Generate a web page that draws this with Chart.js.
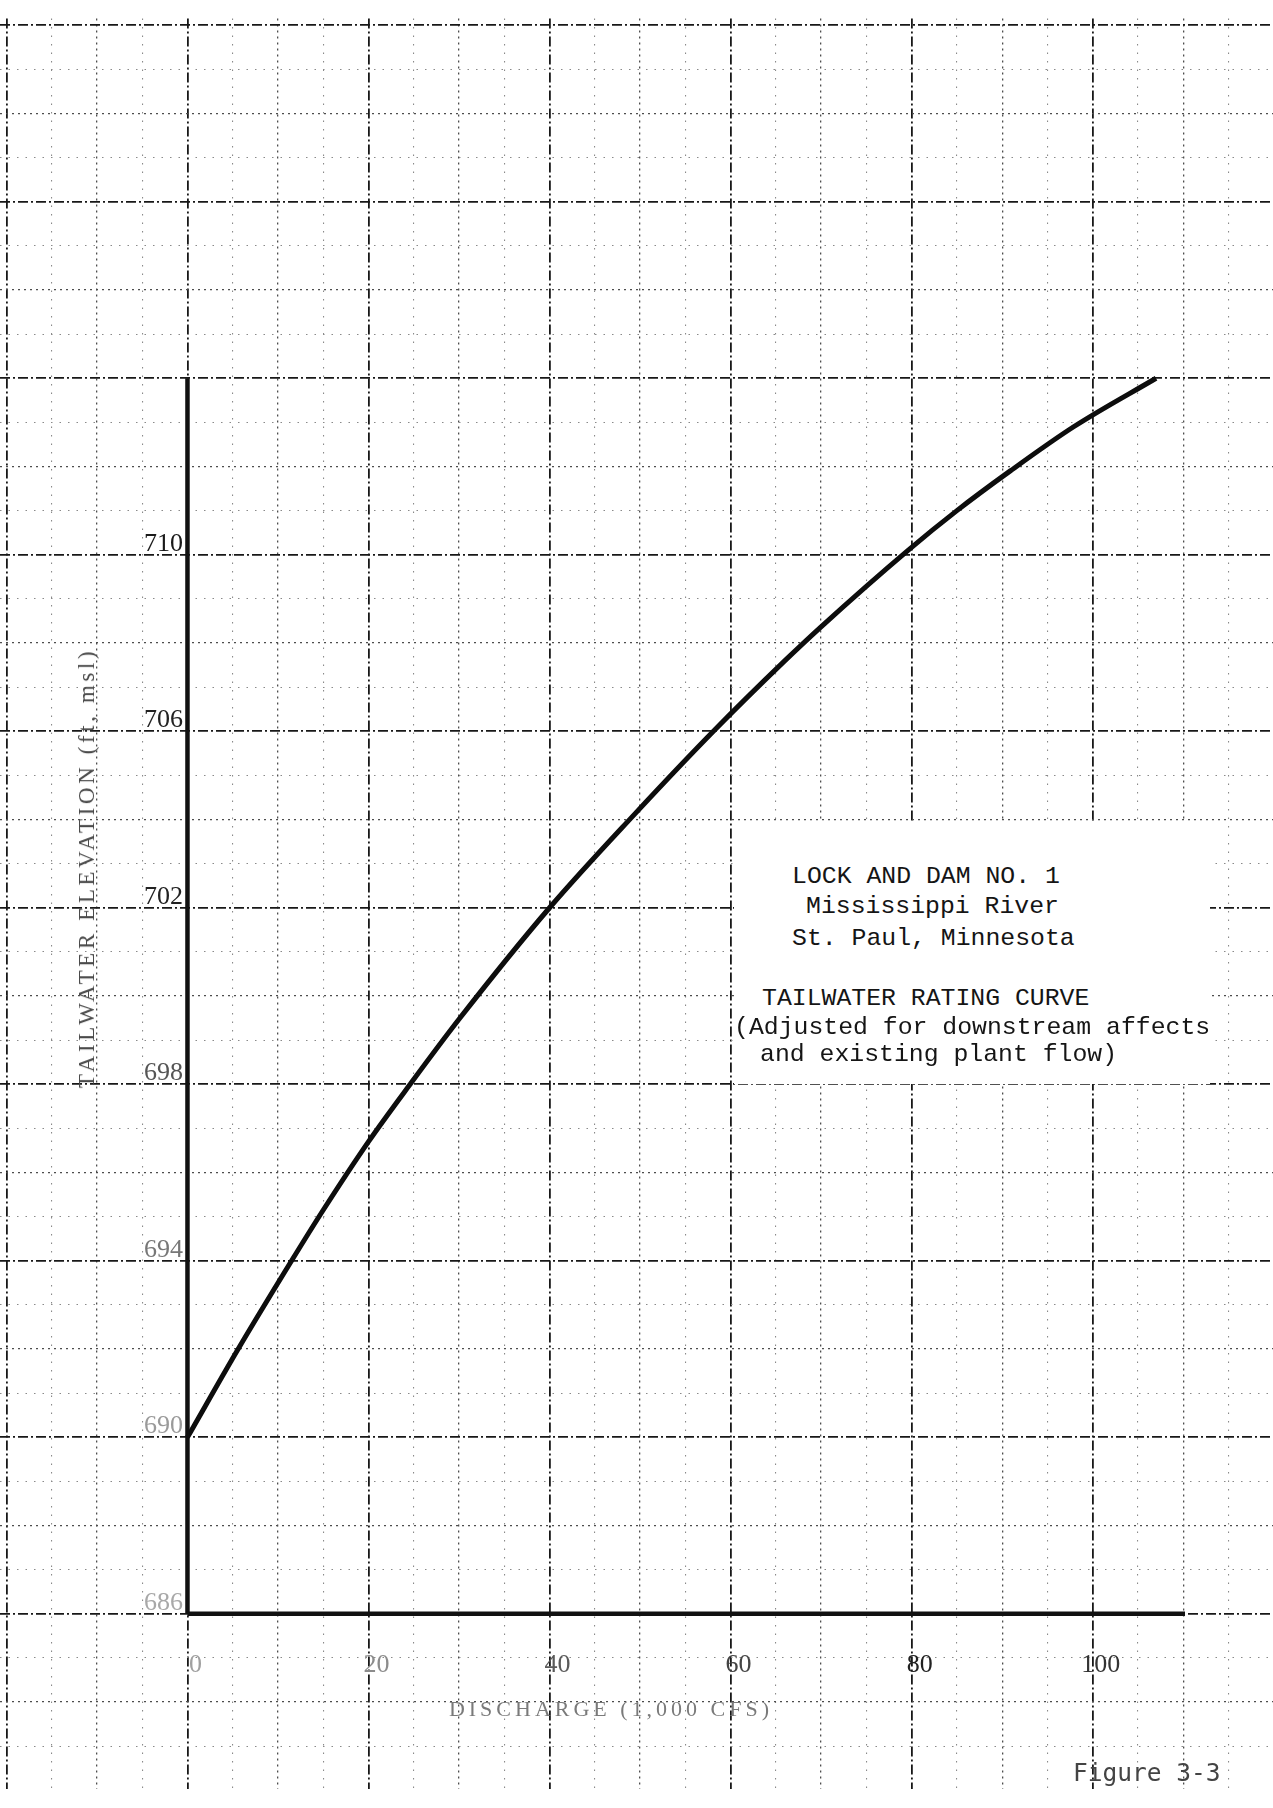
<!DOCTYPE html>
<html>
<head>
<meta charset="utf-8">
<script src="https://cdn.jsdelivr.net/npm/chart.js@4.4.1/dist/chart.umd.min.js"></script>
<style>
  html, body { margin: 0; padding: 0; background: #fff; }
  .hoja { position: relative; width: 1273px; height: 1808px; overflow: hidden; }
  .hoja canvas { position: absolute; left: 0; top: 0; }
  .caja { position: absolute; left: 734px; top: 821px; width: 476px; height: 263px; background: #fff; }
  .linea { position: absolute; white-space: pre; font-family: "Liberation Mono", monospace; font-size: 24.8px; line-height: 25px; color: #151515; }
  .figura { position: absolute; left: 1073px; top: 1761px; white-space: pre; font-family: "DejaVu Sans Mono", monospace; font-size: 24.5px; line-height: 24.5px; color: #444; }
  .tituloY { position: absolute; left: 87px; top: 868px; transform: translate(-50%, -50%) rotate(-90deg); white-space: nowrap; font-family: "Liberation Serif", serif; font-size: 23px; letter-spacing: 3.6px; color: #4a4a4a; }
  .tituloX { position: absolute; left: 611px; top: 1709px; transform: translate(-50%, -50%); white-space: nowrap; font-family: "Liberation Serif", serif; font-size: 22px; letter-spacing: 4px; color: #7a7a7a; }
</style>
</head>
<body>
<div class="hoja">
  <canvas id="myChart" width="1273" height="1808"></canvas>
  <div class="caja"></div>
  <div class="linea" style="left:792px; top:864px;">LOCK AND DAM NO. 1</div>
  <div class="linea" style="left:806px; top:894px;">Mississippi River</div>
  <div class="linea" style="left:792px; top:926px;">St. Paul, Minnesota</div>
  <div class="linea" style="left:762px; top:986px;">TAILWATER RATING CURVE</div>
  <div class="linea" style="left:734px; top:1015px;">(Adjusted for downstream affects</div>
  <div class="linea" style="left:760px; top:1042px;">and existing plant flow)</div>
  <div class="tituloY">TAILWATER ELEVATION (ft, msl)</div>
  <div class="tituloX">DISCHARGE (1,000 CFS)</div>
  <div class="figura">Figure 3-3</div>
</div>
<script>
// datos (caudal en 1000 cfs, cota en ft msl)
const caudal = [0, 5.6, 11.5, 15.0, 20.0, 24.6, 30.1, 40.0, 49.3, 58.1, 66.0, 69.9, 79.6, 85.0, 90.9, 97.9, 107.0];
const cota = [690.0, 692.0, 694.0, 695.15, 696.7, 698.0, 699.5, 702.0, 704.1, 706.0, 707.6, 708.35, 710.1, 711.0, 711.9, 712.9, 714.0];

// etiquetas de los ejes
const ticksCaudal = [0, 20, 40, 60, 80, 100];
const ticksCota = [686, 690, 694, 698, 702, 706, 710];

// ejes gruesos dibujados sobre el papel
const ejeXFin = 110.2;
const ejeYFin = 714;
const cotaBase = 686;

// rango visible de la hoja
const xMin = -20.71, xMax = 119.92;
const yMin = 682.02, yMax = 722.15;

// tonos de las etiquetas (fotocopia desigual)
const tonoCaudal = ['#a0a0a0', '#8c8c8c', '#5a5a5a', '#444', '#222', '#333'];
const tonoCota = ['#a8a8a8', '#9a9a9a', '#777', '#555', '#222', '#222', '#1a1a1a'];

const puntos = caudal.map((c, i) => ({x: c, y: cota[i]}));

//---GRILLA
const transparente = 'rgba(0,0,0,0)';
function esMultiplo(v, paso, base) {
  let r = ((v - base) % paso + paso) % paso;
  return r < 0.001 || paso - r < 0.001;
}
function sinEspacio(scale) { scale.width = scale.isHorizontal() ? scale.width : 0; scale.height = scale.isHorizontal() ? 0 : scale.height; }

function ejeGrilla(eje, paso, color, ancho, dash, visible) {
  return {
    type: 'linear',
    axis: eje,
    position: eje === 'x' ? 'bottom' : 'left',
    min: eje === 'x' ? xMin : yMin,
    max: eje === 'x' ? xMax : yMax,
    ticks: { display: false, stepSize: paso, includeBounds: false, maxTicksLimit: 1000 },
    grid: {
      drawTicks: false,
      color: ctx => (ctx.tick && visible(ctx.tick.value)) ? color : transparente,
      lineWidth: ancho
    },
    border: { display: false, dash: dash },
    afterFit: sinEspacio
  };
}

let scales = {
  x5: ejeGrilla('x', 5, '#8a8a8a', 1.1, [1.5, 7], v => !esMultiplo(v, 10, 0)),
  x10: ejeGrilla('x', 10, '#4d4d4d', 1.3, [2, 4], v => !esMultiplo(v, 20, 0)),
  x: ejeGrilla('x', 20, '#181818', 1.8, [10, 3, 2, 3], v => true),
  y1: ejeGrilla('y', 1, '#8a8a8a', 1.1, [1.5, 7], v => !esMultiplo(v, 2, cotaBase)),
  y2: ejeGrilla('y', 2, '#4d4d4d', 1.3, [2, 4], v => !esMultiplo(v, 4, cotaBase)),
  y: ejeGrilla('y', 2, '#181818', 1.8, [10, 3, 2, 3], v => esMultiplo(v, 4, cotaBase)),
  xl: {
    type: 'linear',
    axis: 'x',
    position: {y: cotaBase},
    min: xMin, max: xMax,
    afterBuildTicks: eje => { eje.ticks = ticksCaudal.map(v => ({value: v})); },
    ticks: {
      autoSkip: false, maxRotation: 0, padding: 36, labelOffset: 8,
      font: { family: 'Liberation Serif', size: 26 },
      color: ctx => tonoCaudal[ctx.index] || '#333'
    },
    grid: { display: false, drawTicks: false },
    border: { display: false },
    afterFit: sinEspacio
  },
  yl: {
    type: 'linear',
    axis: 'y',
    position: {x: -0.5},
    min: yMin, max: yMax,
    afterBuildTicks: eje => { eje.ticks = ticksCota.map(v => ({value: v})); },
    ticks: {
      autoSkip: false, labelOffset: -11,
      font: { family: 'Liberation Serif', size: 26 },
      color: ctx => tonoCota[ctx.index] || '#333'
    },
    grid: { display: false, drawTicks: false },
    border: { display: false },
    afterFit: sinEspacio
  }
};

let data = {
  datasets: [
    {
      label: 'eje caudal',
      data: [{x: 0, y: cotaBase}, {x: ejeXFin, y: cotaBase}],
      borderColor: '#111', borderWidth: 4.5, pointRadius: 0, tension: 0
    },
    {
      label: 'eje cota',
      data: [{x: 0, y: cotaBase}, {x: 0, y: ejeYFin}],
      borderColor: '#111', borderWidth: 4.5, pointRadius: 0, tension: 0
    },
    {
      label: 'TAILWATER RATING CURVE',
      data: puntos,
      borderColor: '#0d0d0d', borderWidth: 5, pointRadius: 0,
      cubicInterpolationMode: 'monotone'
    }
  ]
};

let config = {
  type: 'line',
  data: data,
  options: {
    responsive: false,
    animation: false,
    layout: { padding: 0 },
    plugins: { legend: { display: false }, tooltip: { enabled: false } },
    scales: scales
  }
};

var myChart = new Chart(document.getElementById('myChart'), config);
</script>
</body>
</html>
